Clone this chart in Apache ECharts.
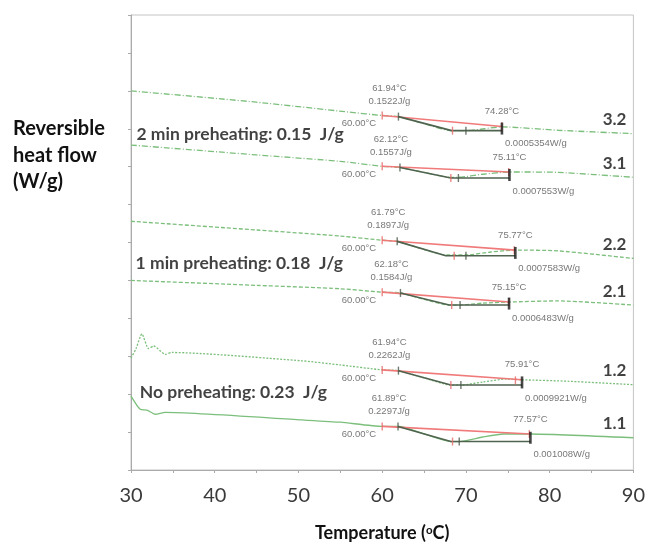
<!DOCTYPE html>
<html>
<head>
<meta charset="utf-8">
<script src="https://cdn.jsdelivr.net/npm/echarts@6/dist/echarts.min.js"></script>
<style>
  html, body { margin: 0; padding: 0; background: #fff; }
  #chart { width: 648px; height: 547px; }
</style>
</head>
<body>
<div id="chart"></div>
<script>
// x axis ticks (°C)
const xTicks = [30, 40, 50, 60, 70, 80, 90]

// reversible heat flow curves, offset stacked (arbitrary units)
const curve32 = [[30, 10.00], [45, 9.70], [56, 9.44], [60, 9.35], [62, 9.32], [65, 9.13], [68.3, 8.95], [70, 8.95], [72.2, 9.00], [74.3, 9.05], [81, 8.96], [90, 8.87]]
const curve31 = [[30, 8.57], [45, 8.31], [55, 8.14], [60, 8.01], [62, 7.98], [65, 7.85], [68.2, 7.72], [69.1, 7.72], [72, 7.80], [75.2, 7.86], [81, 7.85], [90, 7.72]]
const curve22 = [[30, 6.56], [45, 6.33], [55, 6.17], [60, 6.06], [61.8, 6.03], [64.5, 5.85], [67.6, 5.67], [70, 5.67], [73, 5.75], [75.8, 5.80], [81, 5.78], [90, 5.58]]
const curve21 = [[30, 5.00], [45, 4.87], [55, 4.78], [60, 4.69], [62.2, 4.67], [65, 4.50], [68, 4.35], [69.3, 4.35], [72, 4.40], [75.15, 4.43], [81, 4.46], [90, 4.35]]
const curve12 = [[30, 2.95], [30.6, 3.20], [31.3, 3.59], [32.1, 3.20], [32.7, 3.27], [34.1, 3.05], [34.9, 3.10], [50.4, 2.88], [55, 2.77], [60, 2.64], [62, 2.62], [65, 2.43], [68.2, 2.24], [69.4, 2.24], [72, 2.32], [74.8, 2.40], [76.7, 2.38], [82.3, 2.34], [90, 2.25]]
const curve11 = [[30, 1.95], [31.1, 1.60], [31.9, 1.58], [32.9, 1.47], [34.1, 1.52], [50.4, 1.32], [55, 1.26], [60, 1.15], [62, 1.15], [65, 0.95], [68.2, 0.75], [69.2, 0.75], [72, 0.87], [74.5, 0.95], [77.6, 0.95], [90, 0.85]]

const groupNames = ['3.2', '3.1', '2.2', '2.1', '1.2', '1.1']
const curves = [curve32, curve31, curve22, curve21, curve12, curve11]

// glass transition analysis per run
const onsetT = [60, 60, 60, 60, 60, 60]
const midT = [61.94, 62.12, 61.79, 62.18, 61.94, 61.89]
const endT = [74.28, 75.11, 75.77, 75.15, 75.91, 77.57]
const markerT = [74.3, 75.2, 75.9, 75.15, 76.7, 77.7]
const dipT = [68.3, 68.2, 67.6, 68.0, 68.2, 68.2]
const redTick2 = [68.4, 68.2, 68.6, 68.3, 68.2, 68.4]
const darkTick2 = [70.0, 69.1, 70.0, 69.3, 69.4, 69.2]
const onsetV = [9.35, 8.01, 6.06, 4.69, 2.64, 1.15]
const midV = [9.32, 7.98, 6.03, 4.67, 2.62, 1.15]
const endV = [9.06, 7.86, 5.80, 4.43, 2.38, 0.95]
const lowV = [8.95, 7.70, 5.65, 4.35, 2.24, 0.75]

const onsetLabels = ['60.00°C', '60.00°C', '60.00°C', '60.00°C', '60.00°C', '60.00°C']
const midLabels = ['61.94°C', '62.12°C', '61.79°C', '62.18°C', '61.94°C', '61.89°C']
const enthalpyLabels = ['0.1522J/g', '0.1557J/g', '0.1897J/g', '0.1584J/g', '0.2262J/g', '0.2297J/g']
const endLabels = ['74.28°C', '75.11°C', '75.77°C', '75.15°C', '75.91°C', '77.57°C']
const heatCapLabels = ['0.0005354W/g', '0.0007553W/g', '0.0007583W/g', '0.0006483W/g', '0.0009921W/g', '0.001008W/g']

const titleLabels = ['2 min preheating: 0.15  J/g', '1 min preheating: 0.18  J/g', 'No preheating: 0.23  J/g']
const titleX = [30.65, 30.55, 31.05]
const titleV = [8.85, 5.44, 2.04]

const chart = echarts.init(document.getElementById('chart'))

const dashes = [[6, 2, 1, 2], [6, 2, 1, 2], [4, 2], [4, 2], [2, 1.5], 'solid']
const green = '#7cbf7c'
const smallText = { fontFamily: 'Liberation Sans', fontSize: 9.5, color: '#555' }
const boldText = { fontFamily: 'Lato', fontWeight: 'bold', color: '#111' }

const series = []

curves.forEach((c, i) => {
    series.push({
        type: 'line', data: c, showSymbol: false, smooth: 0.2, z: 2, silent: true,
        lineStyle: { color: green, width: 1.3, type: dashes[i] }
    })
    series.push({
        type: 'line', showSymbol: false, z: 3, silent: true,
        data: [[onsetT[i], onsetV[i]], [markerT[i], endV[i]]],
        lineStyle: { color: '#f07a7a', width: 1.6 }
    })
    series.push({
        type: 'line', showSymbol: false, z: 4, silent: true,
        data: [[midT[i], midV[i]], [dipT[i], lowV[i]], [markerT[i], lowV[i]]],
        lineStyle: { color: '#4f634f', width: 1.6 }
    })
})

// tick markers on the analysis lines
series.push({
    type: 'scatter', z: 5, silent: true, symbol: 'rect', symbolSize: [1.4, 8],
    itemStyle: { color: '#e86a6a' },
    data: groupNames.flatMap((g, i) => [[onsetT[i], onsetV[i]], [redTick2[i], lowV[i]], [endT[i], endV[i] + (endT[i] - markerT[i]) * 0.02]])
})
series.push({
    type: 'scatter', z: 5, silent: true, symbol: 'rect', symbolSize: [1.4, 8],
    itemStyle: { color: '#4a5a4a' },
    data: groupNames.flatMap((g, i) => [[midT[i], midV[i]], [darkTick2[i], lowV[i]]])
})
series.push({
    type: 'scatter', z: 6, silent: true, symbol: 'rect', symbolSize: [2.6, 12],
    itemStyle: { color: '#1a1a1a' },
    data: groupNames.map((g, i) => [markerT[i], (endV[i] + lowV[i]) / 2])
})

// annotation texts
const textItems = []
groupNames.forEach((g, i) => {
    textItems.push({
        value: [midT[i], midV[i]],
        label: { ...smallText, formatter: midLabels[i] + '\n' + enthalpyLabels[i], align: 'center', lineHeight: 13, offset: [-9, -22] }
    })
    textItems.push({
        value: [onsetT[i], onsetV[i]],
        label: { ...smallText, formatter: onsetLabels[i], align: 'right', offset: [-6, 8] }
    })
    textItems.push({
        value: [markerT[i], endV[i]],
        label: { ...smallText, formatter: endLabels[i], align: 'center', offset: [0, -15] }
    })
    textItems.push({
        value: [markerT[i], lowV[i]],
        label: { ...smallText, formatter: heatCapLabels[i], align: 'left', offset: [3, 13] }
    })
    const last = curves[i][curves[i].length - 1]
    textItems.push({
        value: last,
        label: { ...boldText, formatter: g, align: 'right', offset: [-7, -14], fontSize: 17 }
    })
})
titleLabels.forEach((t, i) => {
    textItems.push({
        value: [titleX[i], titleV[i]],
        label: { ...boldText, formatter: t, align: 'left', fontSize: 17.5 }
    })
})
series.push({
    type: 'scatter', z: 7, silent: true, symbolSize: 1,
    itemStyle: { color: 'rgba(0,0,0,0)' },
    label: { show: true, position: 'inside', verticalAlign: 'middle' },
    data: textItems
})

const option = {
    animation: false,
    backgroundColor: '#fff',
    grid: { left: 131, right: 13, top: 15, bottom: 70, show: true, borderColor: '#c4c4c4', borderWidth: 1 },
    xAxis: {
        type: 'value', min: xTicks[0], max: xTicks[xTicks.length - 1], interval: xTicks[1] - xTicks[0],
        axisLine: { lineStyle: { color: '#aaa' } },
        axisTick: { length: 3, lineStyle: { color: '#aaa' } },
        minorTick: { show: true, splitNumber: 2, length: 3, lineStyle: { color: '#aaa' } },
        splitLine: { show: false },
        axisLabel: { fontFamily: 'Lato', fontSize: 20, color: '#3a3a3a', margin: 16 },
        name: '{a|Temperature (}{s|o}{a|C)}',
        nameLocation: 'middle', nameGap: 54,
        nameTextStyle: {
            rich: {
                a: { ...boldText, fontSize: 18 },
                s: { ...boldText, fontSize: 11.5, verticalAlign: 'top', padding: [0, 0, 6, 0] }
            }
        }
    },
    yAxis: {
        type: 'value', min: 0, max: 12, interval: 1,
        axisLine: { show: true, lineStyle: { color: '#aaa' } },
        axisTick: { show: true, length: 3, lineStyle: { color: '#aaa' } },
        axisLabel: { show: false },
        splitLine: { show: false }
    },
    graphic: [{
        type: 'text', left: 13, top: 115,
        style: { text: 'Reversible\nheat flow\n(W/g)', font: 'bold 20px Lato', lineHeight: 26.7, fill: '#111' }
    }],
    series: series
}

chart.setOption(option)
</script>
</body>
</html>
